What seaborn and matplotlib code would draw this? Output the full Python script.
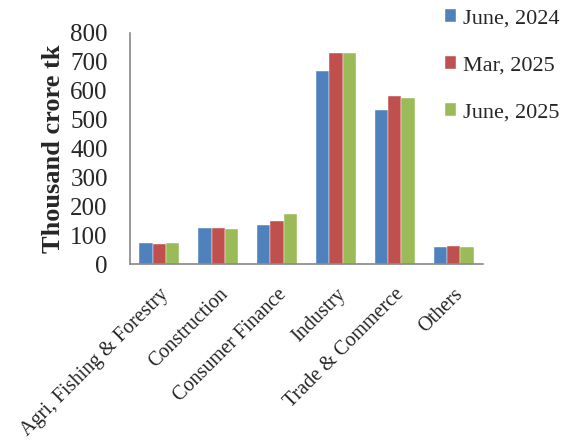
import pandas as pd
import matplotlib.pyplot as plt
import seaborn as sns

sectors = ['Agri, Fishing & Forestry', 'Construction', 'Consumer Finance',
           'Industry', 'Trade & Commerce', 'Others']
periods = ['June, 2024', 'Mar, 2025', 'June, 2025']
june_2024 = [72, 126, 136, 669, 534, 60]
mar_2025 = [70, 123, 148, 730, 581, 61]
june_2025 = [73, 122, 173, 730, 576, 60]

df = pd.DataFrame({
    'Sector': sectors * 3,
    'Period': [p for p in periods for _ in sectors],
    'Value': june_2024 + mar_2025 + june_2025,
})

sns.set_style('white')
plt.rcParams['font.family'] = ['Liberation Serif', 'DejaVu Serif']

fig = plt.figure(figsize=(5.63, 4.43), dpi=100)
ax = fig.add_axes([0.231, 0.404, 0.627, 0.522])

palette = ['#4F81BD', '#C0504D', '#9BBB59']
sns.barplot(data=df, x='Sector', y='Value', hue='Period', palette=palette,
            width=0.68, saturation=1, ax=ax, edgecolor='white', linewidth=0.3)

ax.set_ylim(0, 800)
ax.set_yticks(range(0, 801, 100))
ax.tick_params(axis='y', labelsize=18, length=0, pad=16)
ax.tick_params(axis='x', labelsize=14.5, length=0, pad=15)
ax.set_xticks(range(len(sectors)))
ax.set_xticklabels(sectors, rotation=45, ha='right', rotation_mode='anchor')
ax.set_xlabel('')
ax.set_ylabel('Thousand crore tk', fontsize=19, fontweight='bold', labelpad=4)

sns.despine(ax=ax)
for side in ['left', 'bottom']:
    ax.spines[side].set_color('#888888')
    ax.spines[side].set_linewidth(1.2)

handles, labels = ax.get_legend_handles_labels()
ax.get_legend().remove()
fig.legend(handles, labels, loc='upper left', bbox_to_anchor=(0.775, 1.0),
           frameon=False, fontsize=16, handlelength=0.5, handleheight=0.5,
           handletextpad=0.3, labelspacing=1.25, borderaxespad=0)

fig.savefig('out.png', dpi=100)
